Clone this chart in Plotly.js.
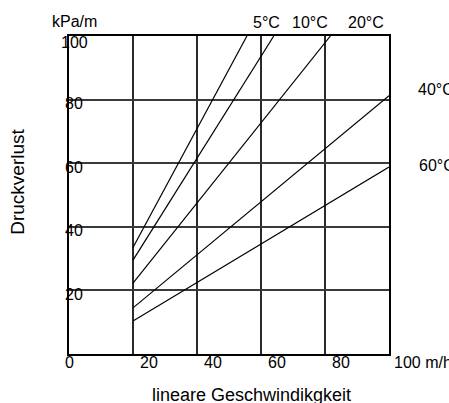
<!DOCTYPE html>
<html>
<head>
<meta charset="utf-8">
<script src="https://cdn.plot.ly/plotly-3.0.1.min.js"></script>
<style>html,body{margin:0;padding:0;background:#fff;}#chart{width:449px;height:403px;}</style>
</head>
<body>
<div id="chart"></div>
<script>
// Data
var seriesNames = ['5°C', '10°C', '20°C', '40°C', '60°C'];
var xStart = [20, 20, 20, 20, 20];
var yStart = [33.5, 29.5, 22.3, 14.5, 10.4];
var xEnd = [55.6, 64.0, 81.7, 100, 100];
var yEnd = [100, 100, 100, 81.2, 58.8];

var xTickVals = [0, 20, 40, 60, 80];
var xTickText = ['0', '20', '40', '60', '80'];
var xLastTickVal = 100;
var xLastTickText = '100 m/h';
var yTickVals = [20, 40, 60, 80, 100];
var yTickText = ['20', '40', '60', '80', '100'];

var yUnit = 'kPa/m';
var yTitle = 'Druckverlust';
var xTitle = 'lineare Geschwindikgkeit';

var FONT = 'Liberation Sans, Arial, Helvetica, sans-serif';

var traces = seriesNames.map(function (name, i) {
  return {
    type: 'scatter', mode: 'lines', name: name,
    x: [xStart[i], xEnd[i]], y: [yStart[i], yEnd[i]],
    line: {color: '#000', width: 1.2},
    hoverinfo: 'skip', cliponaxis: true
  };
});

var ann = [];
// x tick labels (shifted right of the grid lines, as in the reference)
xTickVals.forEach(function (v, i) {
  ann.push({xref: 'x', yref: 'paper', x: v, y: -0.028, text: xTickText[i],
    showarrow: false, xanchor: 'center', yanchor: 'middle',
    xshift: v === 0 ? 0 : 16, font: {family: FONT, size: 16, color: '#000'}});
});
ann.push({xref: 'x', yref: 'paper', x: xLastTickVal, y: -0.028, text: xLastTickText,
  showarrow: false, xanchor: 'left', yanchor: 'middle', xshift: 3,
  font: {family: FONT, size: 16, color: '#000'}});
// y tick labels (drawn over the axis line)
yTickVals.forEach(function (v, i) {
  ann.push({xref: 'paper', yref: 'y', x: 0.016, y: v, text: yTickText[i],
    showarrow: false, xanchor: 'center', yanchor: 'middle', yshift: v === 100 ? -6 : -4,
    font: {family: FONT, size: 16, color: '#000'}});
});
// unit
ann.push({xref: 'paper', yref: 'paper', x: 0.016, y: 1.047, text: yUnit, showarrow: false,
  xanchor: 'center', yanchor: 'middle', font: {family: FONT, size: 16, color: '#000'}});
// series labels
var labelPos = [
  {x: 0.616, y: 1.044, a: 'center'},
  {x: 0.752, y: 1.044, a: 'center'},
  {x: 0.929, y: 1.044, a: 'center'},
  {x: 1.083, y: 0.833, a: 'left'},
  {x: 1.086, y: 0.594, a: 'left'}
];
seriesNames.forEach(function (n, i) {
  ann.push({xref: 'paper', yref: 'paper', x: labelPos[i].x, y: labelPos[i].y, text: n,
    showarrow: false, xanchor: labelPos[i].a, yanchor: 'middle',
    font: {family: FONT, size: 16, color: '#000'}});
});
// axis titles
ann.push({xref: 'paper', yref: 'paper', x: -0.16, y: 0.541, text: yTitle, textangle: -90,
  showarrow: false, xanchor: 'center', yanchor: 'middle',
  font: {family: FONT, size: 19, color: '#000'}});
ann.push({xref: 'paper', yref: 'paper', x: 0.571, y: -0.129, text: xTitle,
  showarrow: false, xanchor: 'center', yanchor: 'middle',
  font: {family: FONT, size: 18, color: '#000'}});

var layout = {
  width: 449, height: 403,
  margin: {l: 69, r: 60, t: 36, b: 49, pad: 0},
  paper_bgcolor: '#fff', plot_bgcolor: '#fff',
  showlegend: false,
  font: {family: FONT, size: 16, color: '#000'},
  xaxis: {range: [0, 100], tickvals: [20, 40, 60, 80], showticklabels: false, ticks: '',
    showgrid: true, gridcolor: '#2a2a2a', gridwidth: 2, zeroline: false,
    showline: true, linecolor: '#000', linewidth: 2, mirror: true, fixedrange: true},
  yaxis: {range: [0, 100], tickvals: [20, 40, 60, 80], showticklabels: false, ticks: '',
    showgrid: true, gridcolor: '#3a3a3a', gridwidth: 2, zeroline: false,
    showline: true, linecolor: '#000', linewidth: 2, mirror: true, fixedrange: true},
  annotations: ann
};

Plotly.newPlot('chart', traces, layout, {staticPlot: true, displayModeBar: false});
</script>
</body>
</html>
